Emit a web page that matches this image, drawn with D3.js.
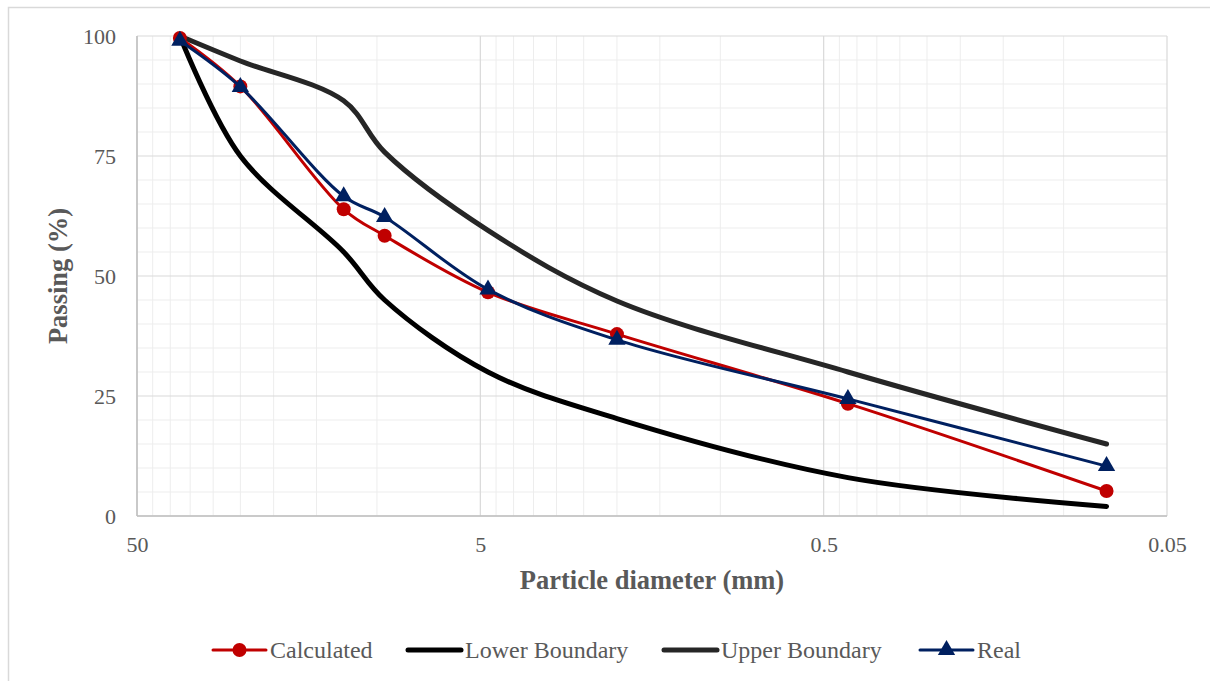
<!DOCTYPE html>
<html>
<head>
<meta charset="utf-8">
<script src="https://cdn.jsdelivr.net/npm/d3@7"></script>
<style>
  body { margin: 0; background: #fff; }
  svg { font-family: "Liberation Serif", "Times New Roman", serif; }
</style>
</head>
<body>
<svg width="1210" height="681"></svg>
<script>
const width = 1210;
const height = 681;
const margin = {top: 36, right: 43, bottom: 165, left: 137};

// sieve sizes (mm) and passing (%)
const sieves = [37.5, 25, 12.5, 9.5, 4.75, 2, 0.425, 0.075];
const calculated = [99.6, 89.5, 63.9, 58.4, 46.6, 37.9, 23.4, 5.2];
const real = [99.0, 89.4, 66.6, 62.3, 47.2, 36.7, 24.4, 10.4];
const lowerBoundary = [100, 75, 55, 45, 30, 20.3, 8, 2];
const upperBoundary = [100, 94.8, 86.5, 75.8, 59.5, 44.8, 30, 15];

const xTicks = [50, 5, 0.5, 0.05];
const yTicks = [0, 25, 50, 75, 100];

const series = [
    {name: 'Calculated', values: calculated, color: '#c00000', width: 3, marker: 'circle'},
    {name: 'Lower Boundary', values: lowerBoundary, color: '#000000', width: 5, marker: null},
    {name: 'Upper Boundary', values: upperBoundary, color: '#262626', width: 5, marker: null},
    {name: 'Real', values: real, color: '#002060', width: 3, marker: 'triangle'}
];

const svg = d3.select('svg');

// outer chart border (only top/left visible)
svg.append('rect')
    .attr('x', 8.5)
    .attr('y', 7.5)
    .attr('width', 1300)
    .attr('height', 800)
    .attr('fill', 'none')
    .attr('stroke', '#d9d9d9')
    .attr('stroke-width', 1.5);

const xScale = d3.scaleLog()
    .domain([50, 0.05])
    .range([margin.left, width - margin.right]);

const yScale = d3.scaleLinear()
    .domain([0, 100])
    .range([height - margin.bottom, margin.top]);

// minor grid
const minorX = [];
[0.05, 0.5, 5].forEach(b => {
    for (let k = 2; k <= 9; k++) minorX.push(b * k);
});
const minorY = d3.range(5, 100, 5).filter(v => v % 25 !== 0);

const grid = svg.append('g');

grid.selectAll('.minor-x')
    .data(minorX)
    .enter()
    .append('line')
    .attr('x1', d => xScale(d))
    .attr('x2', d => xScale(d))
    .attr('y1', yScale(0))
    .attr('y2', yScale(100))
    .attr('stroke', '#ededed')
    .attr('stroke-width', 1);

grid.selectAll('.minor-y')
    .data(minorY)
    .enter()
    .append('line')
    .attr('x1', xScale(50))
    .attr('x2', xScale(0.05))
    .attr('y1', d => yScale(d))
    .attr('y2', d => yScale(d))
    .attr('stroke', '#ededed')
    .attr('stroke-width', 1);

grid.selectAll('.major-x')
    .data(xTicks)
    .enter()
    .append('line')
    .attr('x1', d => xScale(d))
    .attr('x2', d => xScale(d))
    .attr('y1', yScale(0))
    .attr('y2', yScale(100))
    .attr('stroke', '#d9d9d9')
    .attr('stroke-width', 1.2);

grid.selectAll('.major-y')
    .data(yTicks)
    .enter()
    .append('line')
    .attr('x1', xScale(50))
    .attr('x2', xScale(0.05))
    .attr('y1', d => yScale(d))
    .attr('y2', d => yScale(d))
    .attr('stroke', '#d9d9d9')
    .attr('stroke-width', 1.2);

// axis lines
svg.append('line')
    .attr('x1', xScale(50)).attr('x2', xScale(0.05))
    .attr('y1', yScale(0)).attr('y2', yScale(0))
    .attr('stroke', '#bfbfbf').attr('stroke-width', 1.5);
svg.append('line')
    .attr('x1', xScale(50)).attr('x2', xScale(50))
    .attr('y1', yScale(0)).attr('y2', yScale(100))
    .attr('stroke', '#bfbfbf').attr('stroke-width', 1.5);

const xAxis = d3.axisBottom(xScale)
    .tickValues(xTicks)
    .tickFormat(d => String(d))
    .tickSize(0)
    .tickPadding(20);

svg.append('g')
    .attr('transform', `translate(0, ${yScale(0)})`)
    .classed('x-axis', true)
    .call(xAxis);

const yAxis = d3.axisLeft(yScale)
    .tickValues(yTicks)
    .tickSize(0)
    .tickPadding(21);

svg.append('g')
    .attr('transform', `translate(${xScale(50)}, 0)`)
    .classed('y-axis', true)
    .call(yAxis);

svg.selectAll('.x-axis .domain, .y-axis .domain').remove();
svg.selectAll('.x-axis text, .y-axis text')
    .attr('fill', '#595959')
    .style('font-family', '"Liberation Serif", serif')
    .style('font-size', '22px');

// series lines
const line = d3.line()
    .x(d => xScale(d[0]))
    .y(d => yScale(d[1]))
    .curve(d3.curveCatmullRom.alpha(0.5));

const drawOrder = [series[1], series[2], series[0], series[3]];

drawOrder.forEach(s => {
    const pts = sieves.map((d, i) => [d, s.values[i]]);
    svg.append('path')
        .datum(pts)
        .attr('d', line)
        .attr('fill', 'none')
        .attr('stroke', s.color)
        .attr('stroke-width', s.width)
        .attr('stroke-linecap', 'round')
        .attr('stroke-linejoin', 'round');

    if (s.marker === 'circle') {
        svg.selectAll(null)
            .data(pts)
            .enter()
            .append('circle')
            .attr('cx', d => xScale(d[0]))
            .attr('cy', d => yScale(d[1]))
            .attr('r', 7)
            .attr('fill', s.color);
    } else if (s.marker === 'triangle') {
        svg.selectAll(null)
            .data(pts)
            .enter()
            .append('path')
            .attr('transform', d => `translate(${xScale(d[0])}, ${yScale(d[1])})`)
            .attr('d', d3.symbol().type(d3.symbolTriangle).size(130))
            .attr('fill', s.color);
    }
});

// axis titles
svg.append('text')
    .attr('x', (xScale(50) + xScale(0.05)) / 2)
    .attr('y', 589)
    .style('text-anchor', 'middle')
    .style('font-size', '26.5px')
    .style('font-weight', 'bold')
    .attr('fill', '#595959')
    .text('Particle diameter (mm)');

svg.append('text')
    .attr('transform', 'rotate(-90)')
    .attr('x', -(yScale(0) + yScale(100)) / 2)
    .attr('y', 67)
    .style('text-anchor', 'middle')
    .style('font-size', '26.5px')
    .style('font-weight', 'bold')
    .attr('fill', '#595959')
    .text('Passing (%)');

// legend
const legendX = [213, 408, 664, 920];
const legend = svg.selectAll('.legend')
    .data(series)
    .enter()
    .append('g')
    .classed('legend', true)
    .attr('transform', (d, i) => `translate(${legendX[i]}, 650)`);

legend.append('line')
    .attr('x1', 0).attr('x2', 53)
    .attr('y1', 0).attr('y2', 0)
    .attr('stroke', d => d.color)
    .attr('stroke-width', d => d.width)
    .attr('stroke-linecap', 'round');

legend.filter(d => d.marker === 'circle')
    .append('circle')
    .attr('cx', 26.5).attr('cy', 0).attr('r', 7)
    .attr('fill', d => d.color);

legend.filter(d => d.marker === 'triangle')
    .append('path')
    .attr('transform', 'translate(26.5, 0)')
    .attr('d', d3.symbol().type(d3.symbolTriangle).size(130))
    .attr('fill', d => d.color);

legend.append('text')
    .attr('x', 57)
    .attr('y', 8)
    .style('font-size', '24px')
    .attr('fill', '#595959')
    .text(d => d.name);
</script>
</body>
</html>
